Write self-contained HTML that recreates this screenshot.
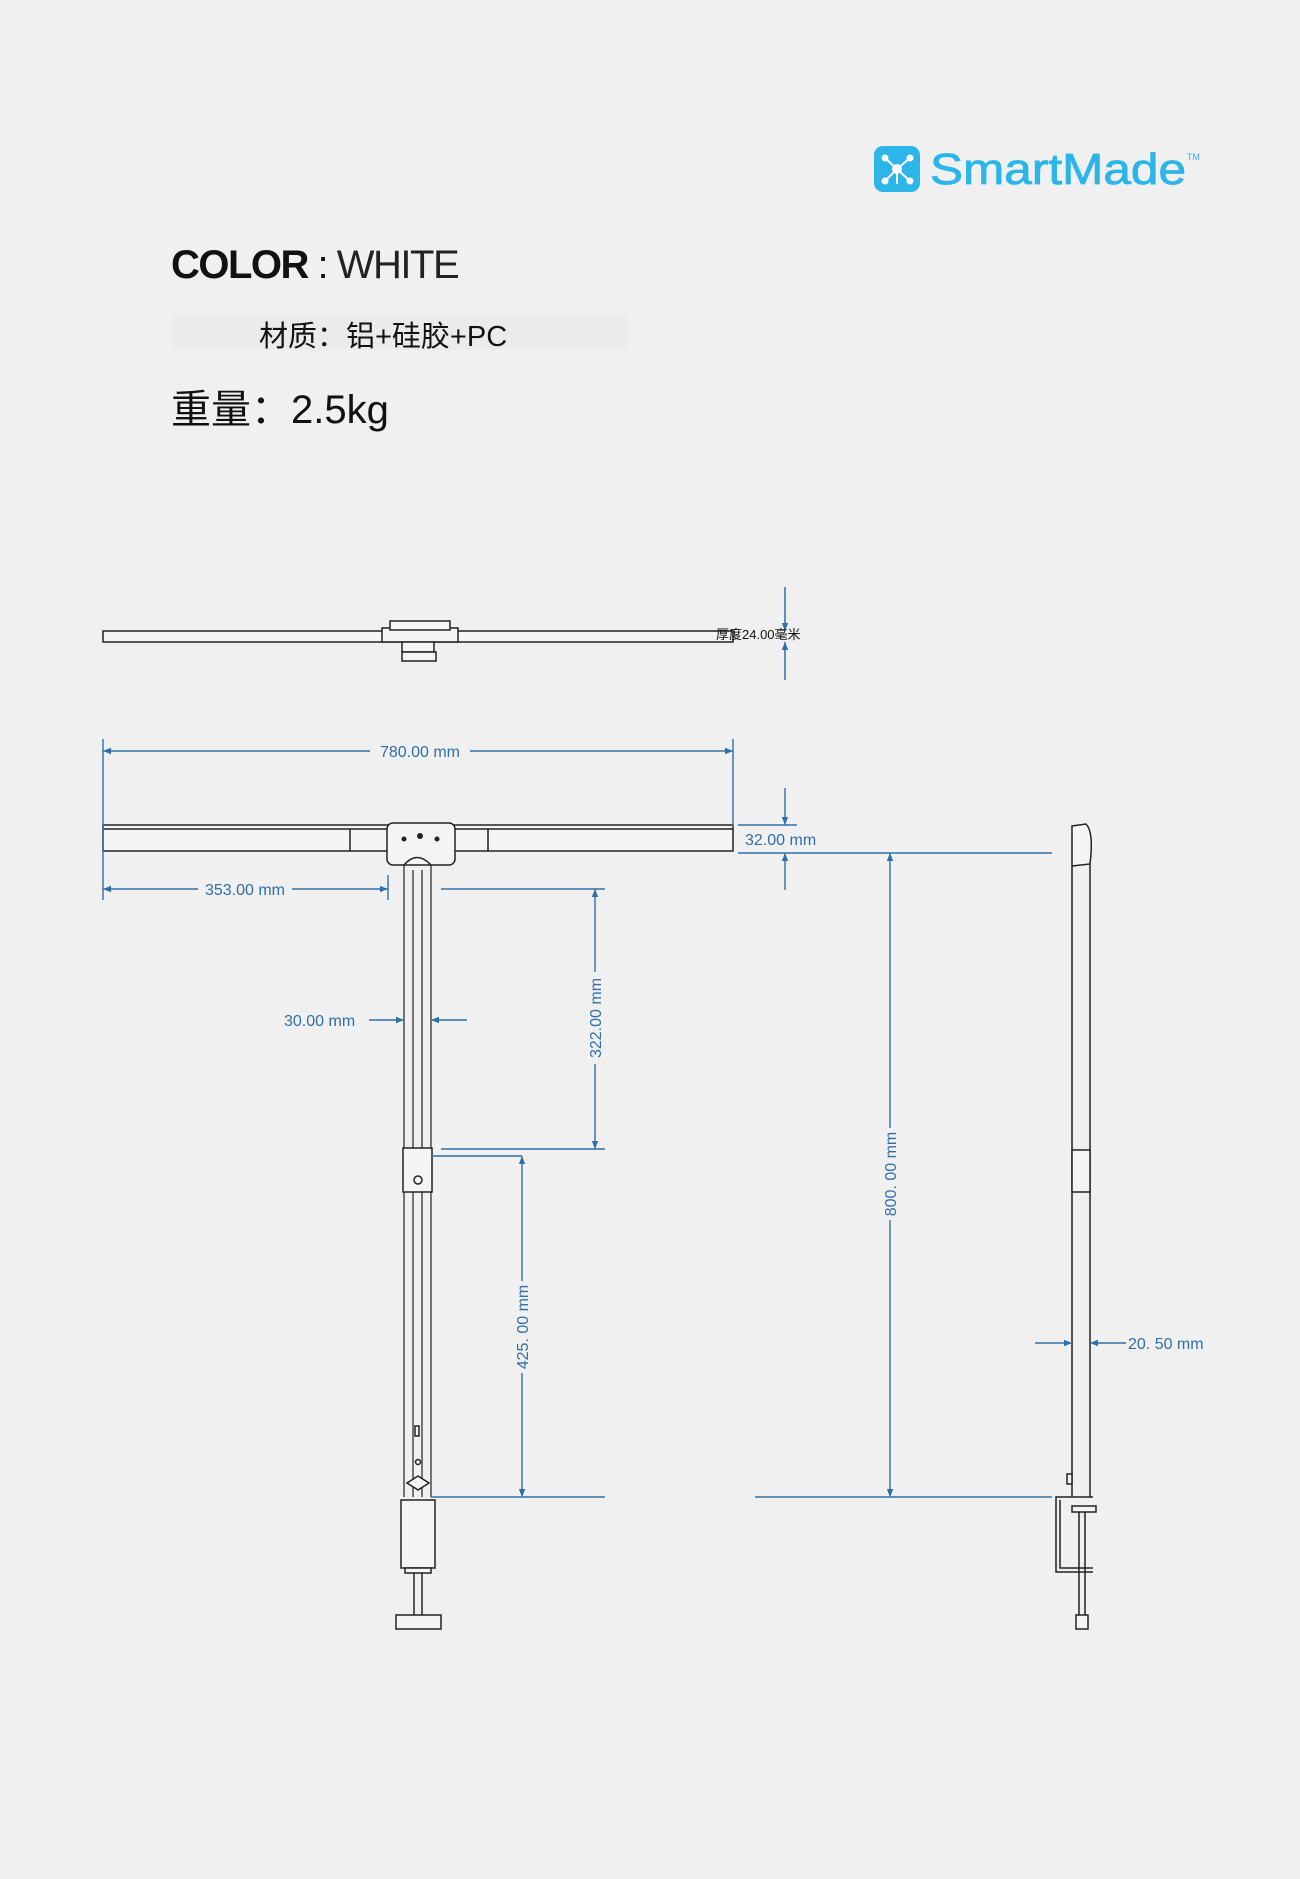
<!DOCTYPE html>
<html><head><meta charset="utf-8"><style>
html,body{margin:0;padding:0;background:#f0f0f0;}
body{width:1300px;height:1879px;position:relative;overflow:hidden;font-family:"Liberation Sans","Noto Sans CJK SC",sans-serif;}
.t{position:absolute;white-space:nowrap;color:#111;}
</style></head><body>
<svg width="1300" height="1879" viewBox="0 0 1300 1879" style="position:absolute;left:0;top:0">
<defs>
<marker id="a" viewBox="0 0 10 10" refX="10" refY="5" markerWidth="10" markerHeight="8" orient="auto-start-reverse" markerUnits="userSpaceOnUse"><path d="M0,1 L10,5 L0,9 Z" fill="#2f6fa8"/></marker>
</defs>
<!-- logo -->
<rect x="874" y="146" width="46" height="46" rx="9" fill="#2bb5e8"/>
<g stroke="#fff" stroke-width="2" fill="#fff">
<line x1="897" y1="169" x2="885" y2="158"/><line x1="897" y1="169" x2="910" y2="158"/><line x1="897" y1="169" x2="885" y2="181"/><line x1="897" y1="169" x2="910" y2="181"/><line x1="897" y1="169" x2="897" y2="184"/>
<circle cx="897" cy="169" r="4"/><circle cx="885" cy="158" r="2.5"/><circle cx="910" cy="158" r="2.5"/><circle cx="885" cy="181" r="2.5"/><circle cx="910" cy="181" r="2.5"/>
</g>
<text x="930" y="184" font-family="Liberation Sans" font-size="44" fill="#2bb5e8" stroke="#2bb5e8" stroke-width="0.8" textLength="256" lengthAdjust="spacingAndGlyphs">SmartMade</text>
<text x="1187" y="160" font-family="Liberation Sans" font-size="9" fill="#2bb5e8">TM</text>
<!-- faint blob behind 材质 -->
<rect x="171" y="314" width="458" height="36" fill="#ebebeb"/>

<!-- TOP VIEW -->
<g stroke="#222" stroke-width="1.5" fill="#f4f4f4">
<rect x="103" y="631" width="630" height="11"/>
<rect x="382" y="628" width="76" height="14"/>
<rect x="390" y="621" width="60" height="9"/>
<rect x="402" y="642" width="32" height="10"/>
<rect x="402" y="652" width="34" height="9"/>
</g>
<g stroke="#2f6fa8" stroke-width="1.5" fill="none">
<line x1="785" y1="587" x2="785" y2="631" marker-end="url(#a)"/>
<line x1="785" y1="680" x2="785" y2="642" marker-end="url(#a)"/>
</g>
<text x="716" y="639" font-size="13" font-family="Liberation Sans, Noto Sans CJK SC, sans-serif" fill="#111">厚度24.00毫米</text>

<!-- FRONT VIEW bar -->
<g stroke="#222" stroke-width="1.5" fill="#f4f4f4">
<rect x="103" y="825" width="630" height="26"/>
<line x1="103" y1="829" x2="733" y2="829"/>
<line x1="350" y1="829" x2="350" y2="851"/><line x1="488" y1="829" x2="488" y2="851"/>
<rect x="387" y="823" width="68" height="42" rx="6"/>
<path d="M404 865 L404 1497 M431 865 L431 1497 M413 870 L413 1497 M422 870 L422 1497" fill="none" stroke-width="1.2"/>
<path d="M404 865 Q417 850 431 865" fill="none"/>
<rect x="403" y="1148" width="29" height="44"/>
<circle cx="418" cy="1180" r="4" fill="none"/>
<rect x="415" y="1426" width="4" height="10"/>
<circle cx="418" cy="1462" r="2.5"/>
<path d="M407 1483 L418 1476 L429 1483 L418 1490 Z"/>
<rect x="401" y="1500" width="34" height="68"/>
<rect x="405" y="1568" width="26" height="5"/>
<line x1="414" y1="1573" x2="414" y2="1615"/><line x1="422" y1="1573" x2="422" y2="1615"/>
<rect x="396" y="1615" width="45" height="14"/>
</g>
<g fill="#222"><circle cx="404" cy="839" r="2.5"/><circle cx="420" cy="836" r="3"/><circle cx="437" cy="839" r="2.5"/></g>

<!-- SIDE VIEW -->
<g stroke="#222" stroke-width="1.5" fill="#f4f4f4">
<path d="M1072 826 L1086 824 Q1094 832 1090 864 L1072 866 Z"/>
<line x1="1072" y1="866" x2="1072" y2="1497"/><line x1="1090" y1="864" x2="1090" y2="1497"/>
<rect x="1072" y="1150" width="18" height="42"/>
<rect x="1067" y="1474" width="5" height="10"/>
<path d="M1093 1497 L1056 1497 L1056 1572 L1093 1572 M1060 1500 L1060 1568 L1093 1568" fill="none"/>
<rect x="1072" y="1506" width="24" height="6"/>
<line x1="1079" y1="1512" x2="1079" y2="1625"/><line x1="1085" y1="1512" x2="1085" y2="1625"/>
<rect x="1076" y="1615" width="12" height="14"/>
</g>

<!-- dimensions -->
<g stroke="#2f6fa8" stroke-width="1.4" fill="none">
<line x1="103" y1="739" x2="103" y2="900"/>
<line x1="733" y1="739" x2="733" y2="827"/>
<line x1="103" y1="751" x2="370" y2="751" marker-start="url(#a)"/>
<line x1="470" y1="751" x2="733" y2="751" marker-end="url(#a)"/>
<line x1="738" y1="825" x2="797" y2="825"/>
<line x1="738" y1="853" x2="1052" y2="853"/>
<line x1="785" y1="788" x2="785" y2="825" marker-end="url(#a)"/>
<line x1="785" y1="890" x2="785" y2="853" marker-end="url(#a)"/>
<line x1="388" y1="875" x2="388" y2="900"/>
<line x1="103" y1="889" x2="388" y2="889" marker-start="url(#a)" marker-end="url(#a)"/>
<line x1="369" y1="1020" x2="404" y2="1020" marker-end="url(#a)"/>
<line x1="467" y1="1020" x2="431" y2="1020" marker-end="url(#a)"/>
<line x1="441" y1="889" x2="605" y2="889"/>
<line x1="441" y1="1149" x2="605" y2="1149"/>
<line x1="595" y1="889" x2="595" y2="1149" marker-start="url(#a)" marker-end="url(#a)"/>
<line x1="431" y1="1156" x2="522" y2="1156"/>
<line x1="431" y1="1497" x2="605" y2="1497"/>
<line x1="522" y1="1156" x2="522" y2="1497" marker-start="url(#a)" marker-end="url(#a)"/>
<line x1="755" y1="1497" x2="1052" y2="1497"/>
<line x1="890" y1="853" x2="890" y2="1497" marker-start="url(#a)" marker-end="url(#a)"/>
<line x1="1035" y1="1343" x2="1072" y2="1343" marker-end="url(#a)"/>
<line x1="1126" y1="1343" x2="1090" y2="1343" marker-end="url(#a)"/>
</g>
<g font-family="Liberation Sans" fill="#2f6fa8" font-size="16">
<rect x="372" y="740" width="96" height="22" fill="#f0f0f0"/>
<text x="420" y="757" text-anchor="middle">780.00 mm</text>
<text x="745" y="845">32.00 mm</text>
<rect x="198" y="880" width="94" height="18" fill="#f0f0f0"/>
<text x="245" y="895" text-anchor="middle">353.00 mm</text>
<text x="284" y="1026">30.00 mm</text>
<g transform="translate(601,1018) rotate(-90)"><rect x="-46" y="-14" width="92" height="16" fill="#f0f0f0"/><text x="0" y="0" text-anchor="middle">322.00 mm</text></g>
<g transform="translate(528,1327) rotate(-90)"><rect x="-46" y="-14" width="92" height="16" fill="#f0f0f0"/><text x="0" y="0" text-anchor="middle">425. 00 mm</text></g>
<g transform="translate(896,1174) rotate(-90)"><rect x="-46" y="-14" width="92" height="16" fill="#f0f0f0"/><text x="0" y="0" text-anchor="middle">800. 00 mm</text></g>
<text x="1128" y="1349">20. 50 mm</text>
</g>
</svg>
<div class="t" style="left:171px;top:243px;font-size:40px;letter-spacing:-1.5px;"><b style="font-weight:bold">COLOR</b> : <span style="font-weight:normal;color:#222">WHITE</span></div>
<div class="t" style="left:259px;top:313px;font-size:29px;">材质：铝+硅胶+PC</div>
<div class="t" style="left:171px;top:377px;font-size:40px;">重量：2.5kg</div>
</body></html>
